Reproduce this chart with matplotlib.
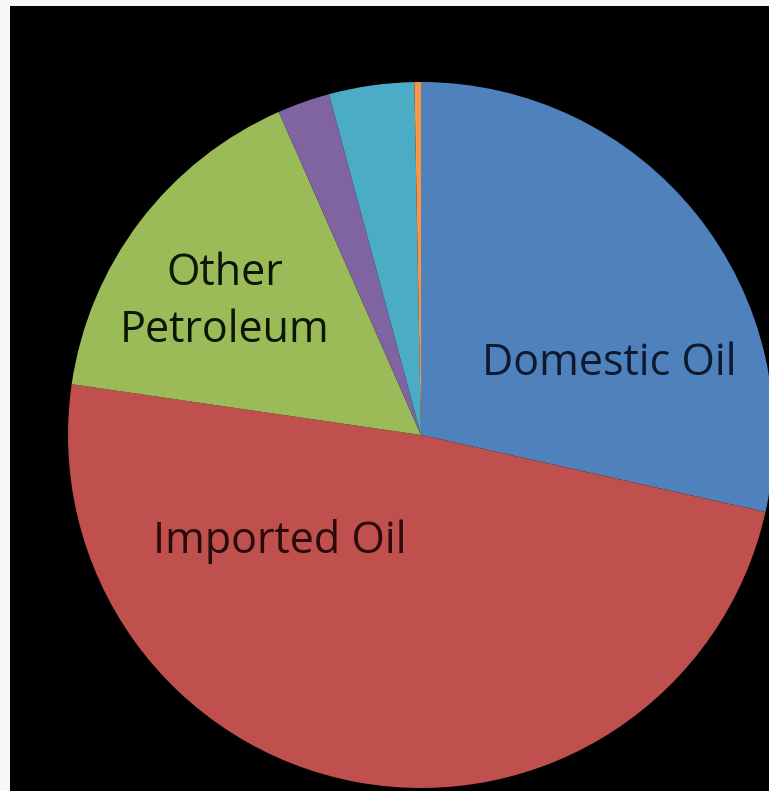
import matplotlib
matplotlib.use("Agg")
from matplotlib import pyplot as plt

# Доли источников (в %), по часовой стрелке от 12 часов
labels = ["Domestic Oil", "Imported Oil", "Other\nPetroleum", "", "", ""]
shares = [28.5, 48.8, 16.1, 2.4, 3.9, 0.3]
colors = ["#4F81BD", "#C0504D", "#9BBB59", "#8064A2", "#4BACC6", "#F79646"]
text_colors = ["#0f1a30", "#2a0b0b", "#0d1505"]

fig = plt.figure(figsize=(7.69, 7.91), dpi=100)
fig.patch.set_facecolor("#f7f7f7")

# Чёрная область графика (1 ед. = 1 пиксель)
ax = fig.add_axes([10 / 769, 0, 759 / 769, 785 / 791])
ax.set_facecolor("black")

cx, cy, r = 421, 356, 353
wedges, _ = ax.pie(shares, colors=colors, startangle=90, counterclock=False,
                   center=(cx, cy), radius=r, frame=True,
                   wedgeprops=dict(linewidth=0))
ax.set_xlim(10, 769)
ax.set_ylim(0, 785)
ax.set_xticks([])
ax.set_yticks([])
for s in ax.spines.values():
    s.set_visible(False)

# Подписи внутри секторов
label_pos = [(609, 791 - 364), (280, 791 - 541), (225, 791 - 302)]
for (x, y), txt, tc in zip(label_pos, labels[:3], text_colors):
    ax.text(x, y, txt, ha="center", va="center", color=tc,
            fontsize=31, family="Open Sans", linespacing=1.38)

fig.savefig("out.png", dpi=100, facecolor=fig.get_facecolor())
